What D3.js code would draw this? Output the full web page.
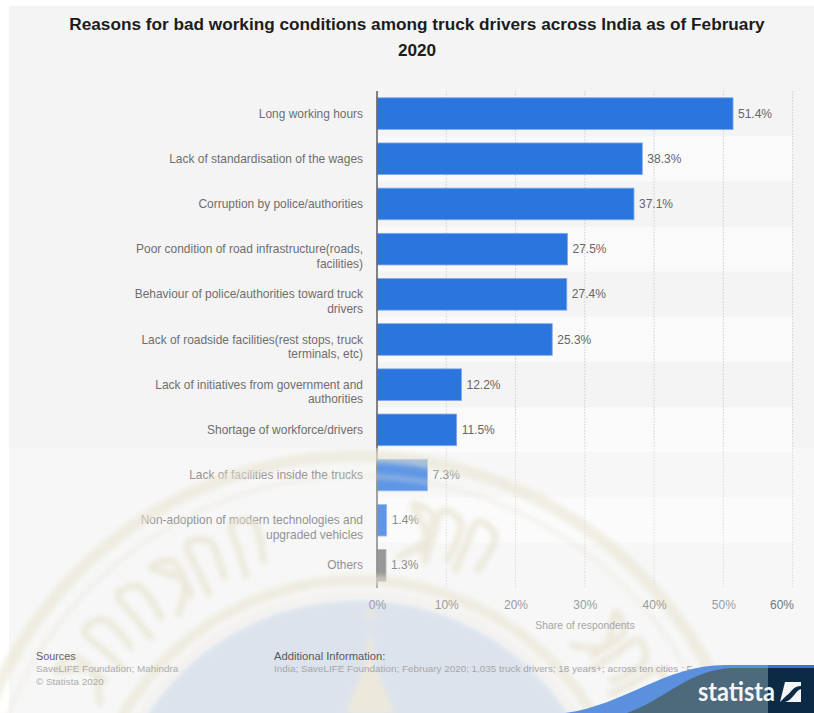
<!DOCTYPE html>
<html>
<head>
<meta charset="utf-8">
<script src="https://cdn.jsdelivr.net/npm/d3@7"></script>
<style>
  html, body { margin: 0; padding: 0; background: #fff; }
  svg { display: block; font-family: "Liberation Sans", Arial, sans-serif; }
</style>
</head>
<body>
<svg id="chart" width="814" height="713"></svg>
<script>
// Survey results: share of truck drivers naming each reason
const categories = [
  "Long working hours",
  "Lack of standardisation of the wages",
  "Corruption by police/authorities",
  "Poor condition of road infrastructure(roads, facilities)",
  "Behaviour of police/authorities toward truck drivers",
  "Lack of roadside facilities(rest stops, truck terminals, etc)",
  "Lack of initiatives from government and authorities",
  "Shortage of workforce/drivers",
  "Lack of facilities inside the trucks",
  "Non-adoption of modern technologies and upgraded vehicles",
  "Others"
];
const shares = [51.4, 38.3, 37.1, 27.5, 27.4, 25.3, 12.2, 11.5, 7.3, 1.4, 1.3];
const tickValues = [0, 10, 20, 30, 40, 50, 60];
const titleLines = [
  "Reasons for bad working conditions among truck drivers across India as of February",
  "2020"
];
const sourceLines = ["SaveLIFE Foundation; Mahindra", "\u00A9 Statista 2020"];
const additionalInfo = "India; SaveLIFE Foundation; February 2020; 1,035 truck drivers; 18 years+; across ten cities ; F";

const svg = d3.select("#chart");
const defs = svg.append("defs");
defs.append("filter").attr("id", "soft").attr("x", "-20%").attr("y", "-20%")
  .attr("width", "140%").attr("height", "140%")
  .append("feGaussianBlur").attr("stdDeviation", 2.6);
const clip = defs.append("clipPath").attr("id", "lowerArea");
clip.append("rect").attr("x", 0).attr("y", 448).attr("width", 814).attr("height", 265);

const x = d3.scaleLinear().domain([0, 60]).range([377, 792.6]);
const y = d3.scaleBand().domain(categories).range([91, 588]).paddingInner(0.3).paddingOuter(0.15);

// Panel
svg.append("rect").attr("x", 9).attr("y", 6).attr("width", 805).attr("height", 707).attr("fill", "#f4f4f4");

// Title
svg.append("g").selectAll("text").data(titleLines).join("text")
  .attr("x", 417).attr("y", (d, i) => 29.5 + i * 26)
  .attr("text-anchor", "middle").attr("font-size", 17.2).attr("font-weight", 700)
  .attr("fill", "#1c1c1c").text(d => d);

// Alternating row bands
const step = y.step();
svg.append("g").selectAll("rect").data(categories).join("rect")
  .attr("x", x(0)).attr("width", x(60) - x(0))
  .attr("y", d => y(d) + y.bandwidth() / 2 - step / 2)
  .attr("height", step)
  .attr("fill", (d, i) => i % 2 ? "#fafafa" : "#f4f4f4");

// Dotted vertical gridlines
svg.append("g").selectAll("line").data(tickValues.slice(1)).join("line")
  .attr("x1", d => x(d)).attr("x2", d => x(d)).attr("y1", 91).attr("y2", 588)
  .attr("stroke", "#cfcfcf").attr("stroke-width", 1).attr("stroke-dasharray", "1.5 1.5");

// Bars
svg.append("g").selectAll("rect").data(shares).join("rect")
  .attr("x", x(0)).attr("y", (d, i) => y(categories[i]))
  .attr("width", d => x(d) - x(0)).attr("height", y.bandwidth())
  .attr("fill", (d, i) => categories[i] === "Others" ? "#767676" : "#2a75de")
  .attr("stroke", (d, i) => categories[i] === "Others" ? "#9a9a9a" : "#7fa9ec")
  .attr("stroke-width", 0.8);

// Value labels
svg.append("g").selectAll("text").data(shares).join("text")
  .attr("x", d => x(d) + 5).attr("y", (d, i) => y(categories[i]) + y.bandwidth() / 2 + 4)
  .attr("font-size", 12).attr("fill", "#666").text(d => d.toFixed(1) + "%");

// Category labels, wrapped to the space left of the axis; the first line sits on the bar's centre
const labelGroup = svg.append("g");
categories.forEach(name => {
  const text = labelGroup.append("text").attr("text-anchor", "end")
    .attr("font-size", 11.95).attr("fill", "#6e6e6e");
  const probe = text.append("tspan");
  const lines = [];
  let current = "";
  name.split(" ").forEach(word => {
    const next = current ? current + " " + word : word;
    probe.text(next);
    if (probe.node().getComputedTextLength() > 236 && current) {
      lines.push(current);
      current = word;
    } else {
      current = next;
    }
  });
  lines.push(current);
  probe.remove();
  const first = y(name) + y.bandwidth() / 2 + 4;
  lines.forEach((line, i) => {
    text.append("tspan").attr("x", 363).attr("y", first + i * 14.8).text(line);
  });
});

// Axis line along the zero position
svg.append("line").attr("x1", x(0)).attr("x2", x(0)).attr("y1", 91).attr("y2", 588)
  .attr("stroke", "#666").attr("stroke-width", 1.6);

// Seal watermark laid over the lower part of the chart
const seal = svg.append("g").attr("clip-path", "url(#lowerArea)");
seal.append("rect").attr("x", 0).attr("y", 448).attr("width", 814).attr("height", 265)
  .attr("fill", "#fff").attr("opacity", 0.25);
const cx = 358, cy = 852;
const art = seal.append("g").attr("filter", "url(#soft)").attr("opacity", 0.7);
art.append("circle").attr("cx", cx).attr("cy", cy).attr("r", 252).attr("fill", "#d3dbe8");
[[396, 12, 0.8], [376, 4, 0.6], [272, 11, 0.8], [258, 4, 0.6]].forEach(([r, w, o]) => {
  art.append("circle").attr("cx", cx).attr("cy", cy).attr("r", r).attr("fill", "none")
    .attr("stroke", "#e8e3d0").attr("stroke-width", w).attr("opacity", o);
});

// Lettering strokes between the rings, given in polar form around the seal centre
const polar = (deg, r) => {
  const a = (deg - 90) * Math.PI / 180;
  return [cx + r * Math.cos(a), cy + r * Math.sin(a)];
};
const glyphAngles = [-58, -50, -42, -35, -28, -20, 10, 15, 21, 48, 54, 60];
const glyphStroke = d3.line().curve(d3.curveCatmullRom);
glyphAngles.forEach((a, i) => {
  const wobble = i % 3 === 0 ? 2.2 : -1.6;
  art.append("path")
    .attr("d", glyphStroke([
      polar(a - 2, 298), polar(a + wobble, 322), polar(a - 1, 352),
      polar(a + 2.4, 345), polar(a + 2, 306)
    ]))
    .attr("fill", "none").attr("stroke", "#e8e3d0").attr("stroke-width", 7)
    .attr("stroke-linecap", "round");
});

// Central spire rising out of the seal's inner field
art.append("path")
  .attr("d", d3.line()([[370, 630], [376, 668], [386, 692], [394, 713], [346, 713], [354, 692], [364, 668]]) + "Z")
  .attr("fill", "#e8e3d0");
art.append("circle").attr("cx", 370).attr("cy", 614).attr("r", 4).attr("fill", "#e8e3d0");

// Value axis labels
const axis = d3.axisBottom(x).tickValues(tickValues).tickSize(0).tickPadding(0)
  .tickFormat(d => d + "%");
const axisG = svg.append("g").attr("transform", "translate(0,609)").call(axis);
axisG.select(".domain").remove();
axisG.selectAll("text")
  .attr("y", 0).attr("dy", 0)
  .attr("font-family", '"Liberation Sans", Arial, sans-serif')
  .attr("font-size", 12).attr("fill", d => d === 60 ? "#757575" : "#9c9c9c");
axisG.selectAll(".tick").filter(d => d === 60).attr("transform", "translate(782,0)");
svg.append("text").attr("x", 585).attr("y", 629).attr("text-anchor", "middle")
  .attr("font-size", 10.4).attr("fill", "#a6a6a6").text("Share of respondents");

// Footer notes
const foot = svg.append("g").attr("font-size", 9.9);
foot.append("text").attr("x", 36).attr("y", 659.5).attr("font-size", 10.8).attr("fill", "#626262").text("Sources");
foot.selectAll(".src").data(sourceLines).join("text").attr("class", "src")
  .attr("x", 36).attr("y", (d, i) => 672 + i * 13.2).attr("fill", "#ababab").text(d => d);
foot.append("text").attr("x", 274).attr("y", 659.5).attr("font-size", 11.2).attr("fill", "#55585f").text("Additional Information:");
foot.append("text").attr("x", 274).attr("y", 672).attr("fill", "#a4a6aa").text(additionalInfo);

// Publisher badge in the corner
const badge = svg.append("g");
badge.append("path").attr("fill", "#5a90de")
  .attr("d", "M565,713 C625,705 665,665 725,665 L814,665 L814,713 Z");
badge.append("path").attr("fill", "#4d6a7c")
  .attr("d", "M627,713 C665,700 690,668 735,668 L814,668 L814,713 Z");
badge.append("rect").attr("x", 768).attr("y", 665).attr("width", 46).attr("height", 3).attr("fill", "#2a75de");
badge.append("rect").attr("x", 768).attr("y", 668).attr("width", 46).attr("height", 45).attr("fill", "#0b2a45");
badge.append("text").attr("x", 698).attr("y", 701).attr("font-family", "Lato, 'Open Sans', sans-serif")
  .attr("font-size", 26).attr("font-weight", 700).attr("fill", "#f4f6f7")
  .attr("textLength", 77).attr("lengthAdjust", "spacingAndGlyphs").text("statista");
badge.append("path").attr("fill", "#f4f6f7")
  .attr("d", "M785,682 L801,682 L801,686 C793,686 792,692 786,696 L780,702 Z");
badge.append("path").attr("fill", "#f4f6f7")
  .attr("d", "M801,689 L801,702 L785,702 C793,700 795,691 801,689 Z");
</script>
</body>
</html>
